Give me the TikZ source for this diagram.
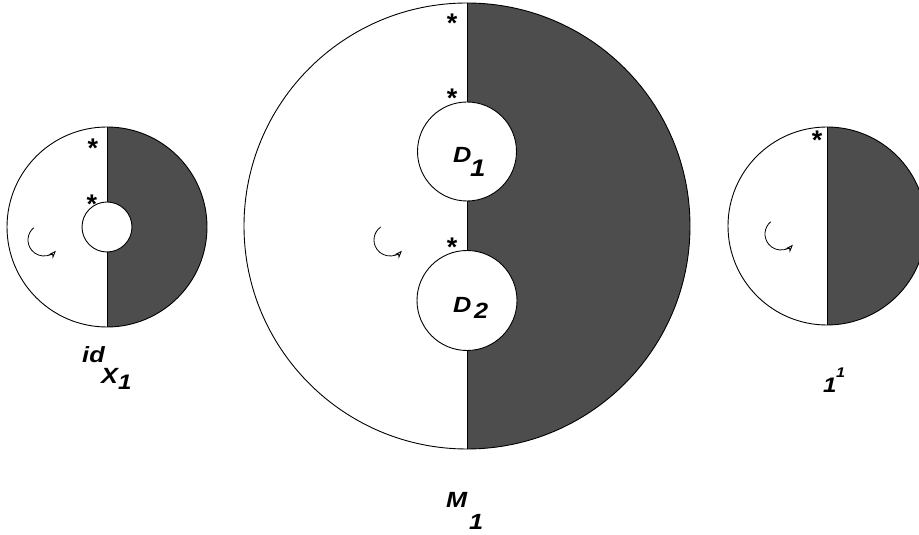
\documentclass[tikz,border=0pt]{standalone}
\usepackage{fontspec}
\setmainfont{Liberation Sans}
\usetikzlibrary{arrows.meta}
\definecolor{fillgray}{HTML}{4D4D4D}
\begin{document}
\begin{tikzpicture}[x=1pt,y=1pt,
  lab/.style={font=\fontsize{#1}{#1}\selectfont\bfseries\itshape, inner sep=0pt, anchor=base west, xscale=1.15},
  lab/.default=21,
  star/.style={font=\fontsize{27}{27}\selectfont\bfseries, inner sep=0pt, anchor=base},
  rim/.style={line width=0.9pt},
  turn/.style={line width=0.8pt, -{Stealth[open,length=8pt,width=6pt]}}]
\useasboundingbox (0,0) rectangle (919,535);
\clip (0,0) rectangle (919,535);
% left disk
\fill[fillgray] (107,408) arc[start angle=90,end angle=-90,radius=100] -- cycle;
\draw[rim,fill=white] (107,308) circle[radius=25];
\draw[rim] (107,308) circle[radius=100];
\draw[rim] (107,408) -- (107,333);
\draw[rim] (107,283) -- (107,208);
% middle disk
\fill[fillgray] (467,532) arc[start angle=90,end angle=-90,radius=223] -- cycle;
\draw[rim,fill=white] (467,383.5) circle[radius=49.5];
\draw[rim,fill=white] (467,234.5) circle[radius=50];
\draw[rim] (467,309) circle[radius=223];
\draw[rim] (467,532) -- (467,433);
\draw[rim] (467,334) -- (467,284.5);
\draw[rim] (467,184.5) -- (467,86);
% right disk
\fill[fillgray] (827,408) arc[start angle=90,end angle=-90,radius=99] -- cycle;
\draw[rim] (827,309) circle[radius=99];
\draw[rim] (827,408) -- (827,210);
% stars
\node[star] (s1) at (93,377) {*};
\node[star] (s2) at (92,321) {*};
\node[star] (s3) at (452,502) {*};
\node[star] (s4) at (452,427) {*};
\node[star] (s5) at (452,278) {*};
\node[star] (s6) at (817,385) {*};
% rotation arrows
\draw[turn] (44,295) ++(130:16) arc[start angle=130,end angle=318,radius=16];
\draw[turn] (390,295) ++(125:16) arc[start angle=125,end angle=318,radius=16];
\draw[turn] (781,301) ++(130:16) arc[start angle=130,end angle=318,radius=16];
% labels
\node[lab=22] (d1) at (453,372) {D};
\node[lab=24] (d1s) at (470,358) {1};
\node[lab=22] (d2) at (453,222) {D};
\node[lab=22] (d2s) at (474,216) {2};
\node[lab=22] (id) at (82,172) {id};
\node[lab=22] (x) at (101,151) {X};
\node[lab=21] (xs) at (118,145) {1};
\node[lab=22] (m) at (446,27) {M};
\node[lab=22] (ms) at (469,5) {1};
\node[lab=21] (one) at (823,142) {1};
\node[lab=14] (onesup) at (836,157) {1};
\end{tikzpicture}
\end{document}
